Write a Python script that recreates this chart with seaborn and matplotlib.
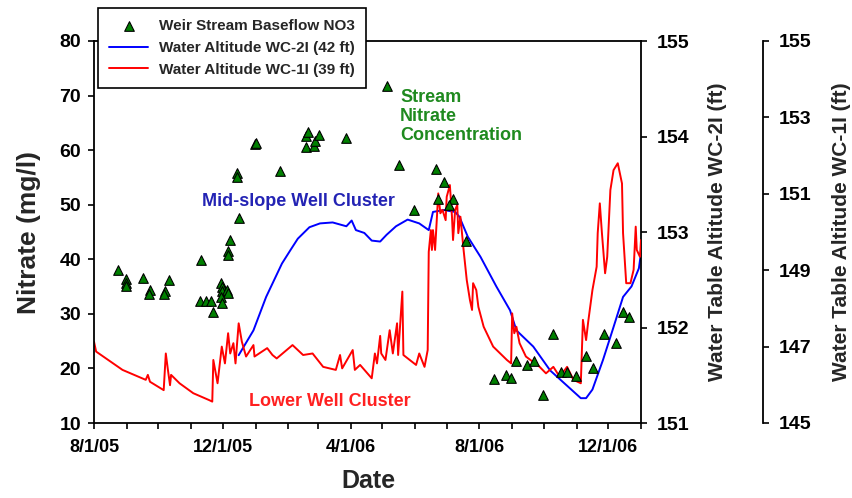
import matplotlib
matplotlib.use("Agg")
import matplotlib.pyplot as plt
import matplotlib.dates as mdates
import pandas as pd
import seaborn as sns

# Weir stream baseflow nitrate samples (mg/l)
nitrate_dates = [
    "2005-08-24", "2005-08-31", "2005-08-31", "2005-08-31", "2005-09-16", "2005-09-23",
    "2005-09-22", "2005-10-07", "2005-10-06", "2005-10-11", "2005-11-10", "2005-11-09",
    "2005-11-15", "2005-11-20", "2005-11-22", "2005-11-29", "2005-11-30", "2005-11-30",
    "2005-12-05", "2005-12-06", "2005-11-29", "2005-11-30", "2005-12-08", "2005-12-06",
    "2005-12-06", "2005-12-14", "2005-12-14", "2005-12-16", "2005-12-31", "2006-01-01",
    "2006-01-24", "2006-02-18", "2006-02-20", "2006-02-18", "2006-02-25", "2006-02-26",
    "2006-03-02", "2006-03-28", "2006-05-05", "2006-05-17", "2006-05-31", "2006-06-21",
    "2006-06-28", "2006-06-23", "2006-07-07", "2006-07-03", "2006-07-19", "2006-08-15",
    "2006-08-26", "2006-08-31", "2006-09-05", "2006-09-15", "2006-09-22", "2006-09-30",
    "2006-10-10", "2006-10-17", "2006-10-23", "2006-10-31", "2006-11-10", "2006-11-17",
    "2006-11-27", "2006-12-08", "2006-12-15", "2006-12-21",
]
nitrate_mgl = [
    38.1, 36.3, 35.6, 35.1, 36.6, 34.4,
    33.6, 34.2, 33.6, 36.2, 39.9, 32.4,
    32.3, 32.3, 30.3, 35.6, 35.0, 34.2,
    34.4, 33.9, 33.1, 31.9, 43.5, 41.6,
    40.8, 55.9, 55.1, 47.6, 61.1, 61.4,
    56.2, 62.5, 63.4, 60.5, 60.7, 61.6,
    62.8, 62.2, 71.7, 57.3, 49.0, 56.5,
    54.1, 51.0, 51.0, 50.0, 43.4, 18.0,
    18.8, 18.3, 21.4, 20.6, 21.4, 15.1,
    26.3, 19.4, 19.4, 18.6, 22.3, 20.0,
    26.4, 24.6, 30.4, 29.4,
]

# Mid-slope well WC-2I water table altitude (ft)
wc2_dates = [
    "2005-12-16", "2005-12-30", "2006-01-11", "2006-01-26", "2006-02-03", "2006-02-10",
    "2006-02-21", "2006-03-03", "2006-03-15", "2006-03-28", "2006-04-02", "2006-04-06",
    "2006-04-14", "2006-04-21", "2006-04-29", "2006-05-05", "2006-05-14", "2006-05-25",
    "2006-06-05", "2006-06-14", "2006-06-18", "2006-06-28", "2006-07-09", "2006-07-13",
    "2006-07-21", "2006-08-02", "2006-08-17", "2006-08-30", "2006-09-05", "2006-09-21",
    "2006-10-07", "2006-10-20", "2006-11-05", "2006-11-10", "2006-11-16", "2006-11-26",
    "2006-12-05", "2006-12-15", "2006-12-23", "2006-12-30", "2007-01-01",
]
wc2_ft = [
    151.71, 151.97, 152.32, 152.67, 152.81, 152.93,
    153.05, 153.09, 153.10, 153.06, 153.12, 153.02,
    152.99, 152.91, 152.90, 152.97, 153.06, 153.13,
    153.09, 153.02, 153.21, 153.23, 153.21, 153.16,
    152.95, 152.74, 152.43, 152.18, 151.97, 151.80,
    151.55, 151.42, 151.26, 151.26, 151.35, 151.66,
    151.97, 152.32, 152.43, 152.62, 152.78,
]

# Lower well WC-1I water table altitude (ft)
wc1_dates = [
    "2005-08-01", "2005-08-03", "2005-08-28", "2005-09-19", "2005-09-21", "2005-09-23",
    "2005-10-06", "2005-10-08", "2005-10-10", "2005-10-12", "2005-10-13", "2005-10-21",
    "2005-11-03", "2005-11-18", "2005-11-21", "2005-11-22", "2005-11-26", "2005-11-30",
    "2005-12-03", "2005-12-06", "2005-12-08", "2005-12-11", "2005-12-13", "2005-12-16",
    "2005-12-19", "2005-12-23", "2005-12-30", "2005-12-31", "2006-01-12", "2006-01-17",
    "2006-01-21", "2006-02-05", "2006-02-15", "2006-02-24", "2006-03-06", "2006-03-18",
    "2006-03-22", "2006-03-24", "2006-04-03", "2006-04-05", "2006-04-10", "2006-04-21",
    "2006-04-24", "2006-04-26", "2006-04-29", "2006-04-30", "2006-05-04", "2006-05-08",
    "2006-05-11", "2006-05-15", "2006-05-16", "2006-05-20", "2006-05-21", "2006-06-02",
    "2006-06-05", "2006-06-10", "2006-06-13", "2006-06-14", "2006-06-16", "2006-06-17",
    "2006-06-18", "2006-06-20", "2006-06-23", "2006-06-25", "2006-06-27", "2006-06-30",
    "2006-07-01", "2006-07-04", "2006-07-06", "2006-07-07", "2006-07-09", "2006-07-11",
    "2006-07-12", "2006-07-14", "2006-07-17", "2006-07-20", "2006-07-23", "2006-07-25",
    "2006-07-26", "2006-07-29", "2006-07-31", "2006-08-05", "2006-08-14", "2006-08-27",
    "2006-08-31", "2006-09-01", "2006-09-03", "2006-09-05", "2006-09-08", "2006-09-14",
    "2006-09-27", "2006-10-03", "2006-10-10", "2006-10-16", "2006-10-23", "2006-10-29",
    "2006-11-05", "2006-11-07", "2006-11-10", "2006-11-12", "2006-11-16", "2006-11-20",
    "2006-11-21", "2006-11-23", "2006-11-25", "2006-11-28", "2006-11-30", "2006-12-03",
    "2006-12-06", "2006-12-10", "2006-12-14", "2006-12-15", "2006-12-18", "2006-12-22",
    "2006-12-25", "2006-12-27", "2006-12-28", "2006-12-31", "2007-01-01",
]
wc1_ft = [
    147.13, 146.87, 146.39, 146.13, 146.26, 146.08,
    145.86, 146.82, 146.39, 145.99, 146.26, 146.04,
    145.78, 145.60, 145.56, 146.65, 146.04, 147.00,
    146.56, 147.35, 146.82, 147.09, 146.56, 147.61,
    147.13, 146.74, 147.04, 146.74, 146.96, 146.78,
    146.69, 147.04, 146.78, 146.82, 146.47, 146.39,
    146.78, 146.43, 146.91, 146.39, 146.52, 146.17,
    146.82, 146.56, 147.28, 146.82, 146.65, 147.43,
    146.82, 147.61, 146.78, 148.44, 146.78, 146.52,
    146.82, 146.47, 146.91, 149.48, 150.05, 149.53,
    150.05, 149.53, 151.01, 150.49, 150.58, 150.31,
    150.92, 151.23, 150.40, 149.79, 150.58, 150.71,
    149.97, 150.40, 149.53, 148.74, 148.22, 147.96,
    148.66, 148.48, 148.04, 147.52, 147.00, 146.65,
    146.56, 147.87, 147.35, 147.52, 147.09, 146.74,
    146.47, 146.30, 146.47, 146.21, 146.47, 146.13,
    146.04, 147.70, 147.17, 147.65, 148.48, 149.09,
    149.97, 150.75, 149.97, 148.92, 149.35, 151.10,
    151.62, 151.80, 151.27, 149.97, 148.66, 148.66,
    149.01, 150.14, 149.53, 149.35, 149.79,
]

tick_dates = ["2005-08-01", "2005-12-01", "2006-04-01", "2006-08-01", "2006-12-01"]
tick_labels = ["8/1/05", "12/1/05", "4/1/06", "8/1/06", "12/1/06"]

legend_labels = ["Weir Stream Baseflow NO3", "Water Altitude WC-2I (42 ft)",
                 "Water Altitude WC-1I (39 ft)"]

sns.set_theme(style="ticks")
plt.rcParams["font.family"] = ["Liberation Sans", "DejaVu Sans"]
plt.rcParams["font.weight"] = "bold"
plt.rcParams["axes.labelweight"] = "bold"

nit = pd.DataFrame({"date": pd.to_datetime(nitrate_dates), "no3": nitrate_mgl})
w2 = pd.DataFrame({"date": pd.to_datetime(wc2_dates), "alt": wc2_ft})
w1 = pd.DataFrame({"date": pd.to_datetime(wc1_dates), "alt": wc1_ft})

W, H = 853, 498
fig = plt.figure(figsize=(W / 100, H / 100), dpi=100)
ax = fig.add_axes([94 / W, 75 / H, 547 / W, 382 / H])
ax2 = ax.twinx()
ax3 = ax.twinx()
ax3.spines["right"].set_position(("axes", 1.223))

sns.lineplot(data=w2, x="date", y="alt", ax=ax2, color="#0000ff", lw=1.4,
             estimator=None, sort=False, label=legend_labels[1])
sns.lineplot(data=w1, x="date", y="alt", ax=ax3, color="#ff0000", lw=1.4,
             estimator=None, sort=False, label=legend_labels[2])
sns.scatterplot(data=nit, x="date", y="no3", ax=ax, marker="^", s=48,
                color="#008000", edgecolor="black", linewidth=0.8,
                label=legend_labels[0], zorder=5)

for a in (ax, ax2, ax3):
    lg = a.get_legend()
    if lg is not None:
        lg.remove()

# stacking: red over blue, samples on top
ax2.set_zorder(1)
ax3.set_zorder(2)
ax.set_zorder(3)
ax.patch.set_visible(False)

ax.set_xlim(pd.Timestamp("2005-08-01"), pd.Timestamp("2007-01-01"))
ax.set_ylim(10, 80)
ax.set_yticks(range(10, 81, 10))
ax2.set_ylim(151, 155)
ax2.set_yticks([151, 152, 153, 154, 155])
ax3.set_ylim(145, 155)
ax3.set_yticks([145, 147, 149, 151, 153, 155])

ax.set_xticks(pd.to_datetime(tick_dates))
ax.set_xticklabels(tick_labels)
ax.xaxis.set_minor_locator(mdates.MonthLocator())

tick_len = 4.3
ax.tick_params(axis="x", which="both", direction="out", length=tick_len, width=1.2,
               labelsize=13, pad=7, colors="black", top=False)
ax.tick_params(axis="y", direction="out", length=tick_len, width=1.2,
               labelsize=14, pad=5, colors="black")
for a in (ax2, ax3):
    a.tick_params(axis="y", direction="out", length=tick_len, width=1.2,
                  labelsize=14, pad=7, colors="black")

for s in ("left", "bottom", "top"):
    ax.spines[s].set_linewidth(1.3)
    ax.spines[s].set_color("black")
ax.spines["right"].set_visible(False)
for a in (ax2, ax3):
    for s in ("left", "bottom", "top"):
        a.spines[s].set_visible(False)
    a.spines["right"].set_linewidth(1.3)
    a.spines["right"].set_color("black")
    a.grid(False)
ax.grid(False)

ax.set_xlabel("Date", fontsize=18, fontweight="bold", labelpad=0)
ax.set_ylabel("Nitrate (mg/l)", fontsize=19, fontweight="bold")
ax.xaxis.set_label_coords(0.502, -0.121)
ax.yaxis.set_label_coords(-0.097, 0.5)
ax2.set_ylabel("Water Table Altitude WC-2I (ft)", fontsize=15, fontweight="bold")
ax2.yaxis.set_label_coords(1.123, 0.5)
ax3.set_ylabel("Water Table Altitude WC-1I (ft)", fontsize=15, fontweight="bold")
ax3.yaxis.set_label_coords(1.35, 0.5)

# cluster annotations
ax.text(pd.Timestamp("2005-11-11"), 50.6, "Mid-slope Well Cluster", color="#2323b4",
        fontsize=13, fontweight="bold", va="center", ha="left")
ax.text(pd.Timestamp("2005-12-26"), 13.9, "Lower Well Cluster", color="#ff2020",
        fontsize=13, fontweight="bold", va="center", ha="left")
ax.text(pd.Timestamp("2006-05-18"), 66.1, "Stream\nNitrate\nConcentration", color="#1f8a1f",
        fontsize=13, fontweight="bold", va="center", ha="left", linespacing=1.15)

handles = []
for a in (ax, ax2, ax3):
    h, _ = a.get_legend_handles_labels()
    handles.extend(h)
leg = fig.legend(handles, legend_labels, loc="upper left",
                 bbox_to_anchor=(98 / W, 1 - 8 / H), borderaxespad=0,
                 frameon=True, fancybox=False, edgecolor="black", framealpha=1,
                 prop={"size": 11, "weight": "bold"}, handlelength=2.5,
                 labelspacing=0.5, borderpad=0.75, handletextpad=0.75)
leg.get_frame().set_linewidth(1.2)

fig.savefig("out.png", dpi=100, facecolor="white")
